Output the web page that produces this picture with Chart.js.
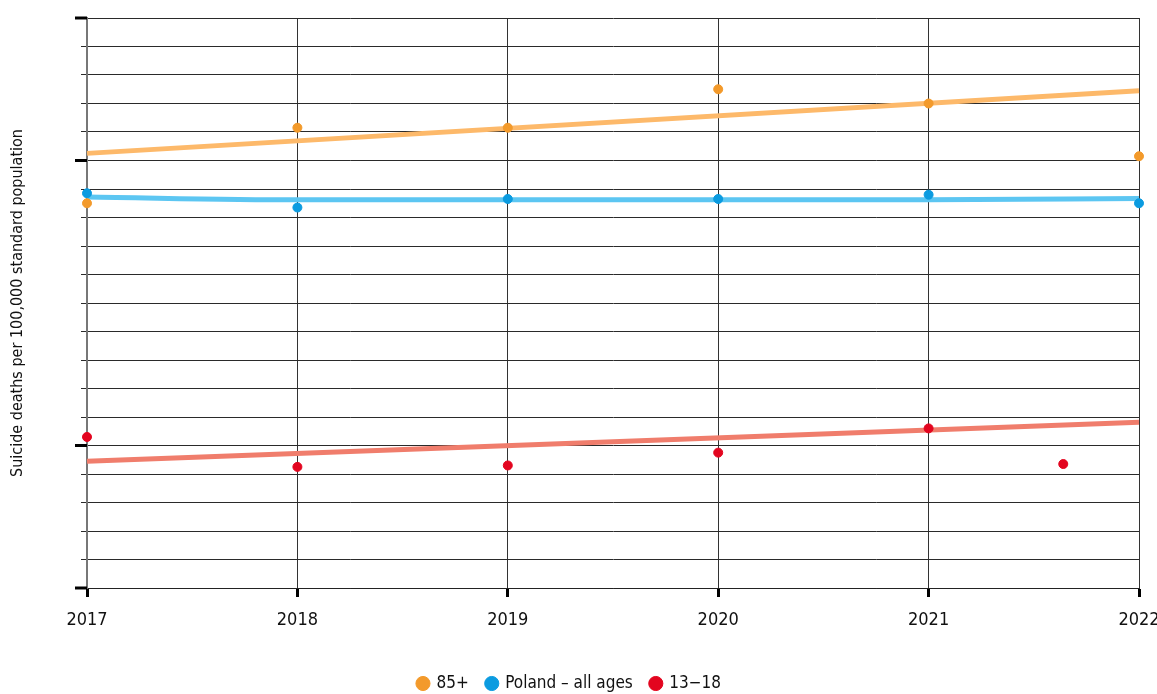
<!DOCTYPE html>
<html>
<head>
<meta charset="utf-8">
<script src="https://cdn.jsdelivr.net/npm/chart.js@4/dist/chart.umd.min.js"></script>
<style>
  html, body { margin: 0; padding: 0; background: #fff; }
  #wrap { width: 1157px; height: 694px; }
</style>
</head>
<body>
<div id="wrap"><canvas id="suicideChart"></canvas></div>
<script>
        // years on the x axis
        const years = [2017, 2018, 2019, 2020, 2021, 2022];
        const yAxisTitle = 'Suicide deaths per 100,000 standard population';

        // observed points
        const oldX = [2017, 2018, 2019, 2020, 2021, 2022];
        const oldValues = [13.5, 16.15, 16.15, 17.5, 17.0, 15.15];
        const polandX = [2017, 2018, 2019, 2020, 2021, 2022];
        const polandValues = [13.85, 13.35, 13.65, 13.65, 13.8, 13.5];
        const teenX = [2017, 2018, 2019, 2020, 2021, 2021.64];
        const teenValues = [5.3, 4.25, 4.3, 4.75, 5.6, 4.35];

        // trend lines
        const oldTrendX = [2017, 2022];
        const oldTrend = [15.25, 17.45];
        const polandTrendX = [2017, 2018, 2019, 2020, 2021, 2022];
        const polandTrend = [13.72, 13.62, 13.62, 13.62, 13.62, 13.67];
        const teenTrendX = [2017, 2022];
        const teenTrend = [4.45, 5.82];

        const yMin = 0, yMax = 20;
        const majorTicks = [0, 5, 15, 20];

        const fontFamily = "'Liberation Sans Narrow', 'DejaVu Sans Condensed', sans-serif";

        function pts(xs, ys) {
            return xs.map((x, i) => ({ x: x, y: ys[i] }));
        }

        // thick black major ticks on the y axis
        const majorTickPlugin = {
            id: 'majorTicks',
            afterDraw(chart) {
                const y = chart.scales.y;
                const c = chart.ctx;
                c.save();
                c.strokeStyle = '#000';
                c.lineWidth = 3;
                for (const v of majorTicks) {
                    const py = y.getPixelForValue(v);
                    c.beginPath();
                    c.moveTo(y.right - 12, py);
                    c.lineTo(y.right, py);
                    c.stroke();
                }
                c.restore();
            }
        };

        const ctx = document.getElementById('suicideChart').getContext('2d');
        const suicideChart = new Chart(ctx, {
            type: 'scatter',
            data: {
                datasets: [
                    {
                        label: '85+',
                        data: pts(oldX, oldValues),
                        backgroundColor: '#f39a2b',
                        borderColor: '#f39a2b',
                        pointRadius: 4.5,
                        clip: false,
                        order: 1
                    },
                    {
                        label: 'Poland \u2013 all ages',
                        data: pts(polandX, polandValues),
                        backgroundColor: '#0b9be0',
                        borderColor: '#0b9be0',
                        pointRadius: 4.5,
                        clip: false,
                        order: 1
                    },
                    {
                        label: '13\u221218',
                        data: pts(teenX, teenValues),
                        backgroundColor: '#e3051f',
                        borderColor: '#e3051f',
                        pointRadius: 4.5,
                        clip: false,
                        order: 1
                    },
                    {
                        label: 'trend85',
                        type: 'line',
                        data: pts(oldTrendX, oldTrend),
                        borderColor: '#fdb96a',
                        borderWidth: 5,
                        pointRadius: 0,
                        clip: false,
                        order: 2
                    },
                    {
                        label: 'trendPoland',
                        type: 'line',
                        data: pts(polandTrendX, polandTrend),
                        borderColor: '#5cc6f2',
                        borderWidth: 5,
                        pointRadius: 0,
                        cubicInterpolationMode: 'monotone',
                        clip: false,
                        order: 2
                    },
                    {
                        label: 'trendTeen',
                        type: 'line',
                        data: pts(teenTrendX, teenTrend),
                        borderColor: '#f07d6c',
                        borderWidth: 5,
                        pointRadius: 0,
                        clip: false,
                        order: 2
                    }
                ]
            },
            options: {
                responsive: true,
                maintainAspectRatio: false,
                animation: false,
                layout: { padding: { top: 18, right: 18, left: 0, bottom: -8 } },
                plugins: {
                    tooltip: { enabled: false },
                    legend: {
                        position: 'bottom',
                        labels: {
                            filter: (item) => !item.text.startsWith('trend'),
                            usePointStyle: true,
                            pointStyle: 'circle',
                            boxWidth: 10,
                            boxHeight: 10,
                            padding: 18,
                            color: '#111',
                            font: { family: fontFamily, size: 17 }
                        }
                    }
                },
                scales: {
                    x: {
                        type: 'linear',
                        min: years[0],
                        max: years[years.length - 1],
                        ticks: {
                            stepSize: 1,
                            callback: (v) => String(v),
                            color: '#111',
                            padding: 13,
                            font: { family: fontFamily, size: 18 }
                        },
                        grid: {
                            color: '#333',
                            lineWidth: 1,
                            tickLength: 9,
                            tickColor: '#000',
                            tickWidth: 3
                        },
                        border: { color: '#222', width: 1 },
                        afterFit: (s) => {
                            s.height = 69;
                            s.paddingLeft = 0;
                            s.paddingRight = 0;
                        }
                    },
                    y: {
                        min: yMin,
                        max: yMax,
                        ticks: { stepSize: 1, display: false },
                        grid: {
                            color: '#2a2a2a',
                            lineWidth: 1,
                            tickLength: 6,
                            tickColor: '#2a2a2a'
                        },
                        border: { color: '#777', width: 2 },
                        title: {
                            display: true,
                            text: yAxisTitle,
                            color: '#111',
                            padding: { top: 8, bottom: 0 },
                            font: { family: fontFamily, size: 16 }
                        },
                        afterFit: (s) => {
                            s.width = 87;
                            s.paddingTop = 0;
                            s.paddingBottom = 0;
                        }
                    }
                }
            },
            plugins: [majorTickPlugin]
        });
</script>
</body>
</html>
